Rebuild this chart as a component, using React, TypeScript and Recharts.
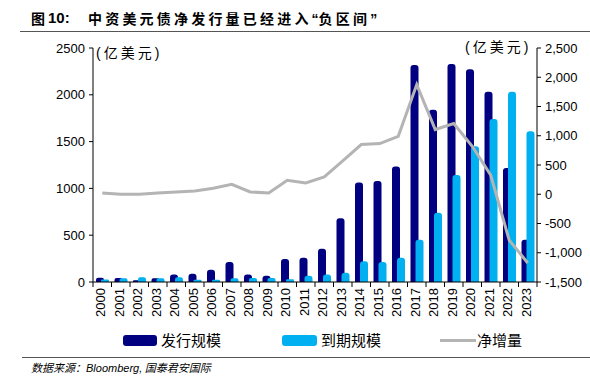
import { ComposedChart, Bar, Line, XAxis, YAxis } from "recharts";

const years = [
  "2000", "2001", "2002", "2003", "2004", "2005", "2006", "2007", "2008", "2009", "2010", "2011",
  "2012", "2013", "2014", "2015", "2016", "2017", "2018", "2019", "2020", "2021", "2022", "2023",
];
const issuance = [45, 42, 20, 40, 79, 89, 132, 213, 79, 68, 245, 260, 355, 681, 1064, 1079, 1234, 2319, 1840, 2330, 2273, 2032, 1217, 451];
const maturity = [26, 40, 50, 40, 50, 25, 25, 40, 43, 43, 29, 68, 79, 100, 223, 213, 260, 451, 741, 1143, 1451, 1741, 2032, 1610];
const netIncrease = [22, 0, 0, 22, 40, 57, 103, 171, 40, 22, 239, 194, 296, 569, 849, 866, 991, 1875, 1106, 1208, 820, 325, -786, -1174];

const leftTicks = [0, 500, 1000, 1500, 2000, 2500];
const rightTicks = [-1500, -1000, -500, 0, 500, 1000, 1500, 2000, 2500];

const data = years.map((year, i) => ({
  year,
  issuance: issuance[i],
  maturity: maturity[i],
  net: netIncrease[i],
}));

const FONT = '"Liberation Sans", Arial, sans-serif';
const CJK = '"Noto Sans CJK SC", sans-serif';
const BAND = 444 / 24;

const YearTick = ({ x, y, payload, index }: any) => (
  <g>
    <line x1={x - BAND / 2} x2={x - BAND / 2} y1={y} y2={y + 5} stroke="#000" />
    {index === years.length - 1 && (
      <line x1={x + BAND / 2} x2={x + BAND / 2} y1={y} y2={y + 5} stroke="#000" />
    )}
    <text
      x={x + 3}
      y={y + 6}
      transform={`rotate(-90, ${x + 3}, ${y + 6})`}
      textAnchor="end"
      fontSize={13}
      fontFamily={FONT}
      fill="#000"
    >
      {payload.value}
    </text>
  </g>
);

const Unit = ({ left, top }: { left: number; top: number }) => (
  <div style={{ position: "absolute", left, top, fontSize: 14, fontFamily: CJK, color: "#000", letterSpacing: 3, whiteSpace: "nowrap" }}>
    <span style={{ fontFamily: FONT }}>(</span>亿美元<span style={{ fontFamily: FONT }}>)</span>
  </div>
);

export default function App() {
  const q = { fontFamily: FONT, letterSpacing: 0 };
  return (
    <div style={{ position: "absolute", left: 0, top: 0, width: 590, height: 376, background: "#fff", overflow: "hidden" }}>
      <div style={{ position: "absolute", left: 31, top: 8, fontSize: 14, fontWeight: "bold", fontFamily: CJK, color: "#000", whiteSpace: "nowrap" }}>
        图
      </div>
      <div style={{ position: "absolute", left: 48, top: 9, fontSize: 15, fontWeight: "bold", fontFamily: FONT, color: "#000", whiteSpace: "nowrap" }}>
        10:
      </div>
      <div style={{ position: "absolute", left: 88, top: 8, fontSize: 14, fontWeight: "bold", fontFamily: CJK, color: "#000", letterSpacing: 3.2, whiteSpace: "nowrap" }}>
        中资美元债净发行量已经进入<span style={q}>“</span>负区间<span style={q}>”</span>
      </div>
      <div style={{ position: "absolute", left: 20, top: 31, width: 570, height: 1, background: "#555" }} />

      <ComposedChart
        width={590}
        height={376}
        data={data}
        margin={{ top: 48, right: 0, bottom: 54, left: 0 }}
        barGap={-3}
      >
        <XAxis
          dataKey="year"
          height={40}
          interval={0}
          tickLine={false}
          tickSize={0}
          tickMargin={0}
          tick={<YearTick />}
          axisLine={{ stroke: "#000" }}
        />
        <YAxis
          yAxisId="left"
          width={93}
          domain={[0, 2500]}
          ticks={leftTicks}
          tickSize={4}
          tickMargin={4}
          axisLine={{ stroke: "#000" }}
          tickLine={{ stroke: "#000" }}
          tick={{ fontSize: 13, fontFamily: FONT, fill: "#000" }}
        />
        <YAxis
          yAxisId="right"
          orientation="right"
          width={53}
          domain={[-1500, 2500]}
          ticks={rightTicks}
          tickSize={4}
          tickMargin={4}
          axisLine={{ stroke: "#000" }}
          tickLine={{ stroke: "#000" }}
          tickFormatter={(v: number) => v.toLocaleString("en-US")}
          tick={{ fontSize: 13, fontFamily: FONT, fill: "#000" }}
        />
        <Bar yAxisId="left" dataKey="issuance" fill="#000080" barSize={8} radius={[3, 3, 0, 0]} isAnimationActive={false} />
        <Bar yAxisId="left" dataKey="maturity" fill="#00B0F0" barSize={8} radius={[3, 3, 0, 0]} isAnimationActive={false} />
        <Line yAxisId="right" dataKey="net" type="linear" stroke="#B4B4B4" strokeWidth={3} dot={false} isAnimationActive={false} />
      </ComposedChart>

      <Unit left={96} top={42} />
      <Unit left={465} top={36} />

      <div style={{ position: "absolute", left: 123, top: 335, width: 34, height: 11, borderRadius: 3, background: "#000080" }} />
      <div style={{ position: "absolute", left: 161, top: 329, fontSize: 15, fontFamily: CJK, color: "#000" }}>发行规模</div>
      <div style={{ position: "absolute", left: 282, top: 335, width: 35, height: 11, borderRadius: 3, background: "#00B0F0" }} />
      <div style={{ position: "absolute", left: 321, top: 329, fontSize: 15, fontFamily: CJK, color: "#000" }}>到期规模</div>
      <div style={{ position: "absolute", left: 440, top: 339, width: 36, height: 3, background: "#B4B4B4" }} />
      <div style={{ position: "absolute", left: 477, top: 329, fontSize: 15, fontFamily: CJK, color: "#000" }}>净增量</div>

      <div style={{ position: "absolute", left: 22, top: 357, width: 568, height: 1, background: "#555" }} />
      <div style={{ position: "absolute", left: 31, top: 359, fontSize: 11, fontStyle: "italic", fontFamily: CJK, color: "#000", whiteSpace: "nowrap" }}>
        数据来源：<span style={{ fontFamily: FONT }}>Bloomberg,</span> 国泰君安国际
      </div>
    </div>
  );
}
